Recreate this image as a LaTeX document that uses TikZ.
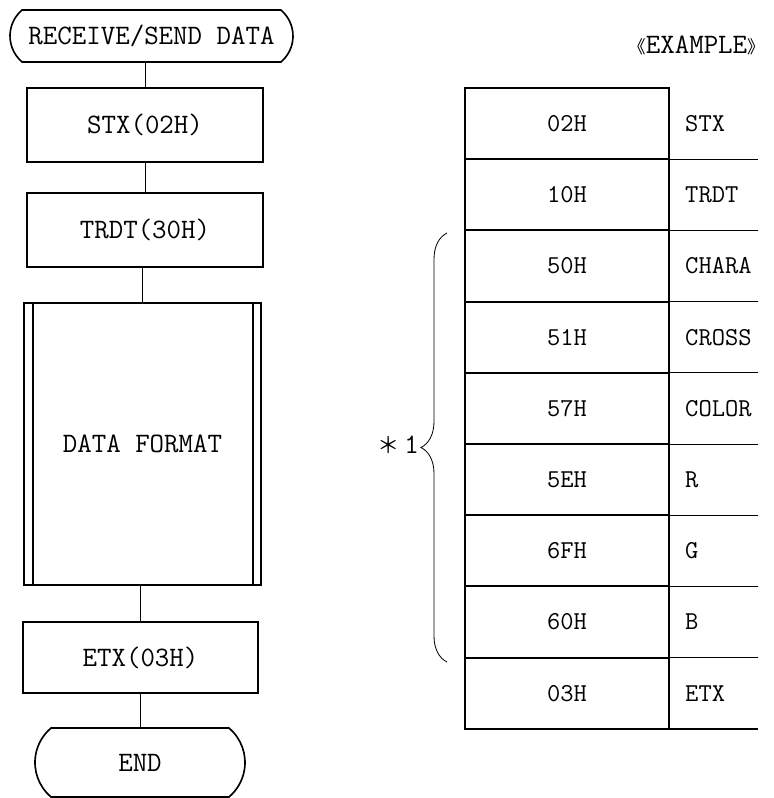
\documentclass[tikz,border=0pt]{standalone}
\usepackage{fontspec}
\newfontfamily\pmono{Latin Modern Mono}
\newfontfamily\cjk{Noto Sans CJK JP}
\usetikzlibrary{positioning,shapes.misc,decorations.pathreplacing}

\begin{document}
\begin{tikzpicture}[x=0.3mm,y=-0.3mm,
  every node/.style={font=\pmono\fontsize{24}{24}\selectfont},
  term/.style={draw,rounded rectangle,rounded rectangle arc length=100,line width=1.4pt,inner sep=0pt},
  blk/.style={draw,rectangle,line width=1.6pt,inner sep=0pt},
  cell/.style={draw,rectangle,line width=1.6pt,inner sep=0pt,outer sep=0pt,minimum width=61.2mm,minimum height=21.36mm,font=\pmono\fontsize{22}{22}\selectfont},
  lab/.style={inner sep=0pt,font=\pmono\fontsize{22}{22}\selectfont},
  conn/.style={line width=0.8pt}]
\useasboundingbox (0,0) rectangle (774,798);
\node[term,minimum width=84.9mm,minimum height=15.6mm] (a) at (151.5,36) {RECEIVE/SEND DATA};
\node[blk,minimum width=70.8mm,minimum height=22.2mm] (b) at (145,125) {STX(02H)};
\node[blk,minimum width=70.8mm,minimum height=22.2mm] (c) at (145,230) {TRDT(30H)};
\node[blk,minimum width=71.1mm,minimum height=84.6mm] (d) at (142.5,444) {DATA FORMAT};
\draw[line width=1.2pt] ([xshift=3mm]d.north west) -- ([xshift=3mm]d.south west);
\draw[line width=1.2pt] ([xshift=-2.7mm]d.north east) -- ([xshift=-2.7mm]d.south east);
\node[blk,minimum width=70.5mm,minimum height=21.3mm] (e) at (140.5,657.5) {ETX(03H)};
\node[term,minimum width=63mm,minimum height=20.7mm] (f) at (140,762.5) {END};
\draw[conn] (b.north) -- (b.north |- a.south);
\draw[conn] (c.north) -- (c.north |- b.south);
\draw[conn] (d.north) -- (d.north |- c.south);
\draw[conn] (e.north) -- (e.north |- d.south);
\draw[conn] (f.north) -- (f.north |- e.south);

\node[anchor=east,inner sep=0pt] (ex) at (765,45) {{\cjk\fontsize{15}{15}\selectfont 《}EXAMPLE{\cjk\fontsize{15}{15}\selectfont 》}};
\node[cell] (h1) at (567,123.6) {02H};
\node[cell,below=0pt of h1] (h2) {10H};
\node[cell,below=0pt of h2] (h3) {50H};
\node[cell,below=0pt of h3] (h4) {51H};
\node[cell,below=0pt of h4] (h5) {57H};
\node[cell,below=0pt of h5] (h6) {5EH};
\node[cell,below=0pt of h6] (h7) {6FH};
\node[cell,below=0pt of h7] (h8) {60H};
\node[cell,below=0pt of h8] (h9) {03H};
\node[lab,right=4.8mm of h1] (l1) {STX};
\node[lab,right=4.8mm of h2] (l2) {TRDT};
\node[lab,right=4.8mm of h3] (l3) {CHARA};
\node[lab,right=4.8mm of h4] (l4) {CROSS};
\node[lab,right=4.8mm of h5] (l5) {COLOR};
\node[lab,right=4.8mm of h6] (l6) {R};
\node[lab,right=4.8mm of h7] (l7) {G};
\node[lab,right=4.8mm of h8] (l8) {B};
\node[lab,right=4.8mm of h9] (l9) {ETX};
\foreach \i in {1,...,8} \draw[conn] (h\i.south east) -- ++(89,0);
\draw[line width=1.6pt] (h9.south east) -- ++(89,0);

\coordinate (bb) at (447,662);
\coordinate (bt) at (447,233);
\draw[line width=0.7pt,decorate,decoration={brace,amplitude=7.8mm}] (bb) -- (bt);
\node[anchor=east,inner sep=0pt] (n1) at (419,445) {{\cjk\fontsize{19}{19}\selectfont ＊}\,1};
\end{tikzpicture}
\end{document}
